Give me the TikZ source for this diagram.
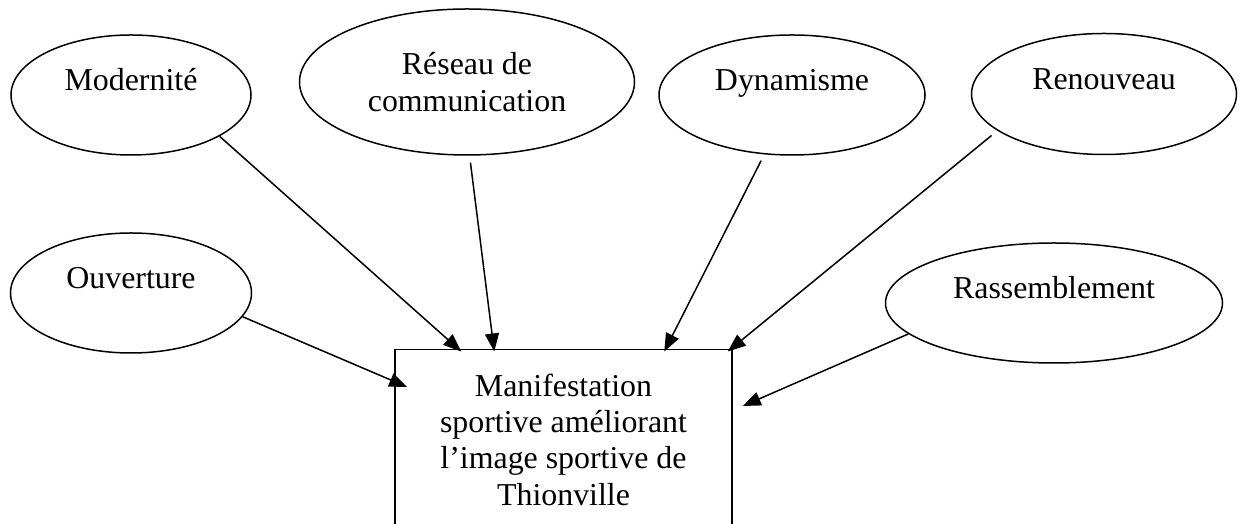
\documentclass[tikz,border=0pt]{standalone}
\usepackage{fontspec}
\setmainfont{Liberation Serif}
\usetikzlibrary{shapes.geometric,arrows.meta}

\begin{document}
\begin{tikzpicture}[x=0.4pt,y=-0.4pt,every node/.style={font=\fontsize{12.75}{14.5}\selectfont},
                   bulle/.style={draw,ellipse,line width=0.6pt,inner sep=0pt,text height=9pt,text depth=12.4pt},
                   bulle2/.style={draw,ellipse,line width=0.6pt,inner sep=0pt,align=center},
                   cadre/.style={draw,rectangle,line width=0.6pt,align=center,minimum width=134.8pt,minimum height=72pt,anchor=north},
                   fleche/.style={line width=0.6pt,-{Triangle[length=7.2pt,width=5.6pt]}}]
\useasboundingbox (0,0) rectangle (1246,524);
\clip (0,0) rectangle (1246,524);
\node[bulle,minimum width=96pt,minimum height=48pt] (mod) at (131,95) {Modernité};
\node[bulle2,minimum width=134pt,minimum height=58.4pt] (res) at (467,82) {Réseau de\\communication};
\node[bulle,minimum width=106.4pt,minimum height=48pt] (dyn) at (792,95) {Dynamisme};
\node[bulle,minimum width=106pt,minimum height=48.4pt] (ren) at (1104,94) {Renouveau};
\node[bulle,minimum width=96.4pt,minimum height=48pt] (ouv) at (131,293) {Ouverture};
\node[bulle,minimum width=134.8pt,minimum height=48pt] (ras) at (1054,303) {Rassemblement};
\node[cadre] (event) at (563.5,349) {Manifestation\\sportive améliorant\\l’image sportive de\\Thionville};

\draw[fleche] (mod.-25) -- ([xshift=26.8pt,yshift=-1pt]event.north west);
\draw[fleche,shorten <=2.8pt] (res.-88) -- ([xshift=40pt,yshift=-1pt]event.north west);
\draw[fleche,shorten <=2.8pt] (dyn.-115) -- ([xshift=108pt,yshift=-1pt]event.north west);
\draw[fleche,shorten <=3pt] (ren.199.5) -- ([xshift=-2pt,yshift=-1pt]event.north east);
\draw[fleche] (ouv.-12) -- ([xshift=5.2pt,yshift=-15.2pt]event.north west);
\draw[fleche] (ras.192) -- ([xshift=4pt,yshift=-22.8pt]event.north east);
\end{tikzpicture}
\end{document}
